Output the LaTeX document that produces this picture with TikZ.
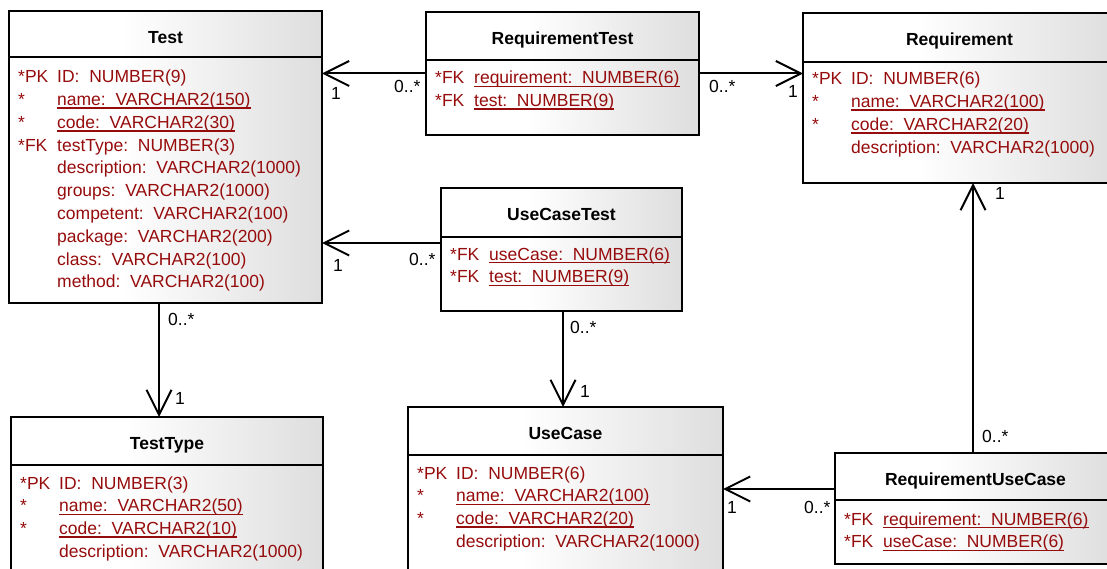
\documentclass[tikz,border=0pt]{standalone}
\usepackage{fontspec}
\setmainfont{Liberation Sans}
\usetikzlibrary{arrows.meta}

\definecolor{fieldred}{RGB}{150,12,12}
\definecolor{boxgray}{RGB}{222,222,222}
% white on the left, fading to light grey on the right
\pgfdeclarehorizontalshading{tablefill}{100bp}{color(0bp)=(white); color(25bp)=(white); color(43bp)=(white); color(75bp)=(boxgray); color(100bp)=(boxgray)}

\tikzset{
  erbox/.style={draw=black, line width=2.6pt, shading=tablefill, anchor=north west, inner sep=0pt, outer sep=0pt},
  divider/.style={draw=black, line width=2pt},
  ertitle/.style={anchor=base, inner sep=0pt, font=\erfont\bfseries, text=black},
  keytag/.style={anchor=base west, inner sep=0pt, font=\erfont, text=fieldred},
  erfield/.style={anchor=base west, inner sep=0pt, font=\erfont, text=fieldred},
  uline/.style={draw=fieldred, line width=1.5pt},
  assoc/.style={draw=black, line width=2pt, -{Straight Barb[length=25pt,width=25pt]}},
  mult/.style={anchor=base west, inner sep=0pt, font=\erfont, text=black},
}
\newcommand\erfont{\fontsize{17.5}{21}\selectfont}

% one attribute row: box, row index, key tag, text
\newcommand\erattr[4]{%
  \path ([shift={(9pt,{-72pt-22.75pt*#2})}]#1.north west)
    node[keytag] (#1-p#2) {#3}
    ++(39pt,0) node[erfield] (#1-f#2) {#4};}
% attribute row with underlined (unique / foreign key) text
\newcommand\erkeyattr[4]{%
  \erattr{#1}{#2}{#3}{#4}%
  \draw[uline] ([yshift=-2.5pt]#1-f#2.base west) -- ([yshift=-2.5pt]#1-f#2.base east);}
% header: title and divider line
\newcommand\erhead[3]{%
  \node[ertitle] (#1-t) at ([yshift=-32.5pt]#1.north) {#2};
  \draw[divider] ([yshift=-#3]#1.north west) -- ([yshift=-#3]#1.north east);}

\begin{document}
\begin{tikzpicture}[x=1pt,y=-1pt]
\useasboundingbox (0,0) rectangle (1107,569);
\clip (0,0) rectangle (1107,569);

% tables
\node[erbox, minimum width=313pt, minimum height=292pt] (test) at (9,11) {};
\node[erbox, minimum width=273pt, minimum height=123pt] (rt) at (426,12) {};
\node[erbox, minimum width=313pt, minimum height=170pt] (req) at (803,13) {};
\node[erbox, minimum width=241pt, minimum height=123pt] (uct) at (441,188) {};
\node[erbox, minimum width=312pt, minimum height=175pt] (tt) at (11,417) {};
\node[erbox, minimum width=315pt, minimum height=185pt] (uc) at (408,407) {};
\node[erbox, minimum width=281pt, minimum height=111pt] (ruc) at (835,453) {};

\erhead{test}{Test}{46pt}
\erattr{test}{0}{*PK}{ID:\ \ NUMBER(9)}
\erkeyattr{test}{1}{*}{name:\ \ VARCHAR2(150)}
\erkeyattr{test}{2}{*}{code:\ \ VARCHAR2(30)}
\erattr{test}{3}{*FK}{testType:\ \ NUMBER(3)}
\erattr{test}{4}{}{description:\ \ VARCHAR2(1000)}
\erattr{test}{5}{}{groups:\ \ VARCHAR2(1000)}
\erattr{test}{6}{}{competent:\ \ VARCHAR2(100)}
\erattr{test}{7}{}{package:\ \ VARCHAR2(200)}
\erattr{test}{8}{}{class:\ \ VARCHAR2(100)}
\erattr{test}{9}{}{method:\ \ VARCHAR2(100)}

\erhead{rt}{RequirementTest}{48pt}
\erkeyattr{rt}{0}{*FK}{requirement:\ \ NUMBER(6)}
\erkeyattr{rt}{1}{*FK}{test:\ \ NUMBER(9)}

\erhead{req}{Requirement}{49pt}
\erattr{req}{0}{*PK}{ID:\ \ NUMBER(6)}
\erkeyattr{req}{1}{*}{name:\ \ VARCHAR2(100)}
\erkeyattr{req}{2}{*}{code:\ \ VARCHAR2(20)}
\erattr{req}{3}{}{description:\ \ VARCHAR2(1000)}

\erhead{uct}{UseCaseTest}{49pt}
\erkeyattr{uct}{0}{*FK}{useCase:\ \ NUMBER(6)}
\erkeyattr{uct}{1}{*FK}{test:\ \ NUMBER(9)}

\erhead{tt}{TestType}{48pt}
\erattr{tt}{0}{*PK}{ID:\ \ NUMBER(3)}
\erkeyattr{tt}{1}{*}{name:\ \ VARCHAR2(50)}
\erkeyattr{tt}{2}{*}{code:\ \ VARCHAR2(10)}
\erattr{tt}{3}{}{description:\ \ VARCHAR2(1000)}

\erhead{uc}{UseCase}{48pt}
\erattr{uc}{0}{*PK}{ID:\ \ NUMBER(6)}
\erkeyattr{uc}{1}{*}{name:\ \ VARCHAR2(100)}
\erkeyattr{uc}{2}{*}{code:\ \ VARCHAR2(20)}
\erattr{uc}{3}{}{description:\ \ VARCHAR2(1000)}

\erhead{ruc}{RequirementUseCase}{47pt}
\erkeyattr{ruc}{0}{*FK}{requirement:\ \ NUMBER(6)}
\erkeyattr{ruc}{1}{*FK}{useCase:\ \ NUMBER(6)}

% relationships
\draw[assoc] (rt.west) -- (rt.west -| test.east);
\draw[assoc] (rt.east) -- (rt.east -| req.west);
\coordinate (uct-out) at ([yshift=6.5pt]uct.west);
\draw[assoc] (uct-out) -- (uct-out -| test.east);
\coordinate (test-out) at ([xshift=-6.5pt]test.south);
\draw[assoc] (test-out) -- (test-out |- tt.north);
\coordinate (uct-down) at ([xshift=1.5pt]uct.south);
\draw[assoc] (uct-down) -- (uct-down |- uc.north);
\coordinate (ruc-left) at ([yshift=-36pt]ruc.north west);
\draw[assoc] (ruc-left) -- (ruc-left -| uc.east);
\coordinate (ruc-up) at ([xshift=138pt]ruc.north west);
\draw[assoc] (ruc-up) -- (ruc-up |- req.south);

% multiplicities
\node[mult] (m1) at (331,100) {1};
\node[mult] (m2) at (394,93) {0..*};
\node[mult] (m3) at (709,93) {0..*};
\node[mult] (m4) at (788,98) {1};
\node[mult] (m5) at (333,271) {1};
\node[mult] (m6) at (409,265) {0..*};
\node[mult] (m7) at (168,325) {0..*};
\node[mult] (m8) at (175,404) {1};
\node[mult] (m9) at (570,333) {0..*};
\node[mult] (m10) at (580,397) {1};
\node[mult] (m11) at (727,513) {1};
\node[mult] (m12) at (804,513) {0..*};
\node[mult] (m13) at (982,442) {0..*};
\node[mult] (m14) at (995,200) {1};
\end{tikzpicture}
\end{document}
